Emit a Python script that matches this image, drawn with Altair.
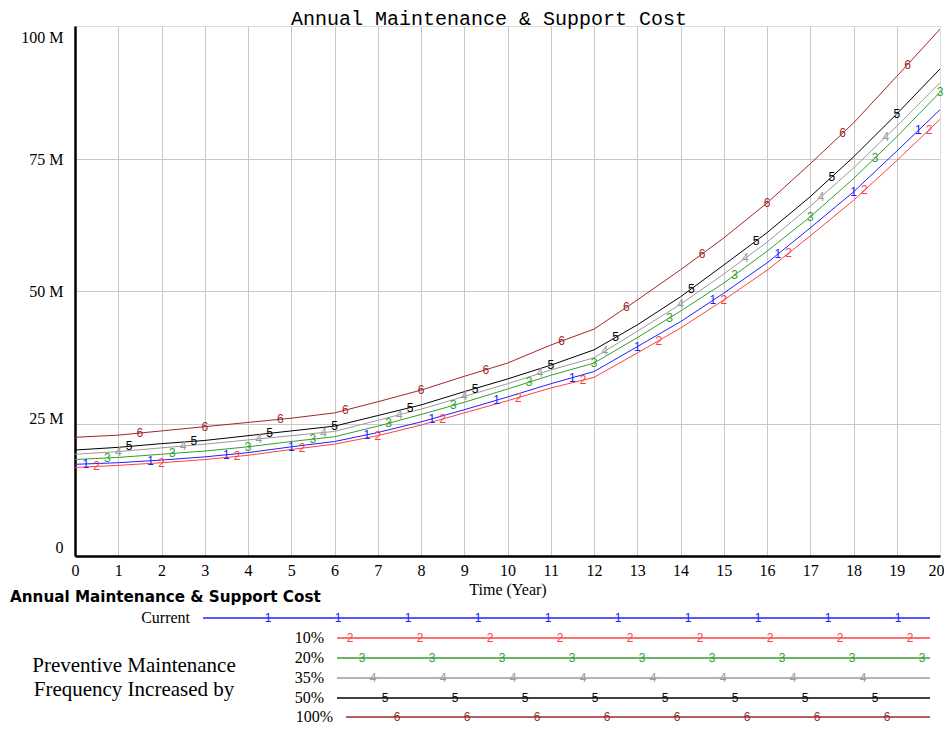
import altair as alt
import pandas as pd
import numpy as np

# ---------------- data ----------------
years = list(range(21))
series_names = ["Current", "10%", "20%", "35%", "50%", "100%"]
series_marks = ["1", "2", "3", "4", "5", "6"]
series_colors = ["#2020ff", "#ff4040", "#30a030", "#9a9a9a", "#000000", "#a02828"]

current = [17.3, 17.6, 18.1, 18.7, 19.5, 20.6, 21.6, 23.3, 25.3, 27.6, 30.0, 32.5, 34.8, 39.5, 44.2, 49.6, 55.3, 61.9, 68.7, 76.4, 84.2]
pm10 = [16.7, 17.1, 17.6, 18.2, 19.0, 20.1, 21.1, 22.7, 24.7, 27.0, 29.3, 31.7, 33.7, 38.3, 43.0, 48.3, 53.9, 60.4, 67.1, 74.6, 82.4]
pm20 = [18.2, 18.6, 19.2, 19.8, 20.6, 21.6, 22.5, 24.5, 26.7, 29.0, 31.5, 34.1, 36.4, 41.2, 46.2, 51.5, 57.5, 64.0, 71.2, 79.1, 87.5]
pm35 = [19.2, 19.7, 20.4, 21.1, 21.9, 22.7, 23.5, 25.6, 27.7, 30.1, 32.5, 35.1, 37.4, 42.4, 47.5, 53.2, 59.2, 66.0, 73.2, 81.1, 89.3]
pm50 = [20.0, 20.5, 21.2, 21.8, 22.7, 23.6, 24.5, 26.5, 28.5, 31.0, 33.4, 36.0, 38.9, 43.6, 48.9, 54.9, 61.0, 67.8, 75.3, 83.4, 91.9]
pm100 = [22.4, 22.8, 23.6, 24.4, 25.2, 26.0, 27.0, 29.1, 31.3, 33.9, 36.4, 39.8, 42.8, 48.3, 54.0, 60.0, 66.6, 74.0, 81.7, 90.5, 99.4]
all_series = [current, pm10, pm20, pm35, pm50, pm100]

# years at which the series number is drawn on each curve
mark_years = [
    [0.25, 1.75, 3.5, 5.0, 6.75, 8.25, 9.75, 11.5, 13.0, 14.75, 16.25, 18.0, 19.5],
    [0.5, 2.0, 3.75, 5.25, 7.0, 8.5, 10.25, 11.75, 13.5, 15.0, 16.5, 18.25, 19.75],
    [0.75, 2.25, 4.0, 5.5, 7.25, 8.75, 10.5, 12.0, 13.75, 15.25, 17.0, 18.5, 20.0],
    [1.0, 2.5, 4.25, 5.75, 7.5, 9.0, 10.75, 12.25, 14.0, 15.5, 17.25, 18.75],
    [1.25, 2.75, 4.5, 6.0, 7.75, 9.25, 11.0, 12.5, 14.25, 15.75, 17.5, 19.0],
    [1.5, 3.0, 4.75, 6.25, 8.0, 9.5, 11.25, 12.75, 14.5, 16.0, 17.75, 19.25],
]

TITLE = "Annual Maintenance & Support Cost"

# ---------------- layout ----------------
W, H = 865, 530
X0, Y0 = 75, 556  # page pixel of plot origin (left, bottom)


def dx(p):
    return (p - X0) / W * 20.0


def dy(p):
    return (Y0 - p) / H * 100.0


rows = []
for name, vals in zip(series_names, all_series):
    for yr, v in zip(years, vals):
        rows.append({"year": yr, "value": v, "series": name})
df = pd.DataFrame(rows)

mrows = []
for name, lab, vals, mys in zip(series_names, series_marks, all_series, mark_years):
    for my in mys:
        mrows.append({"year": my, "value": float(np.interp(my, years, vals)), "series": name, "lab": lab})
mdf = pd.DataFrame(mrows)

# legend block (below plot)
row_y = [618, 638, 658, 678, 698, 717]
line_start = [203, 337, 337, 337, 337, 346]
line_end = 930
label_right = [190, 324, 324, 324, 324, 333]
first_mark = [268, 350, 362, 373, 385, 397]
n_marks = [10, 9, 9, 8, 8, 8]

lrules, ltexts, lmarks = [], [], []
for i, name in enumerate(series_names):
    lrules.append({"year": dx(line_start[i]), "year2": dx(line_end), "value": dy(row_y[i]), "series": name})
    ltexts.append({"year": dx(label_right[i]), "value": dy(row_y[i]), "txt": name})
    for k in range(n_marks[i]):
        lmarks.append({"year": dx(first_mark[i] + 70 * k), "value": dy(row_y[i]), "series": name,
                       "lab": series_marks[i]})
lrules = pd.DataFrame(lrules)
ltexts = pd.DataFrame(ltexts)
lmarks = pd.DataFrame(lmarks)

notes = pd.DataFrame([
    {"year": dx(134), "value": dy(666), "txt": "Preventive Maintenance"},
    {"year": dx(134), "value": dy(690), "txt": "Frequency Increased by"},
])
header = pd.DataFrame([{"year": dx(10), "value": dy(597), "txt": TITLE}])
title_df = pd.DataFrame([{"year": dx(489), "value": dy(25), "txt": TITLE}])

SERIF = "Liberation Serif"

xenc = alt.X(
    "year:Q",
    scale=alt.Scale(domain=[0, 20], nice=False, zero=False),
    axis=alt.Axis(
        values=years, title="Time (Year)", grid=True,
        gridColor=alt.ExprRef(expr="datum.value == 0 || datum.value == 20 ? 'transparent' : '#c8c8c8'"),
        gridWidth=1,
        domain=True, domainColor="#000", domainWidth=2.5, ticks=False,
        labelFont=SERIF, labelFontSize=16, labelColor="#000",
        labelPadding=6, titleFont=SERIF, titleFontSize=16, titleFontWeight="normal",
        titleColor="#000", titlePadding=3, labelFlush=False,
        labelAlign=alt.ExprRef(expr="datum.value == 20 ? 'right' : 'center'"),
        labelOffset=alt.ExprRef(expr="datum.value == 20 ? 4 : 0"),
    ),
)
yenc = alt.Y(
    "value:Q",
    scale=alt.Scale(domain=[0, 100], nice=False, zero=False),
    axis=alt.Axis(
        values=[0, 25, 50, 75, 100], title=None, grid=True,
        gridColor=alt.ExprRef(expr="datum.value == 0 || datum.value == 100 ? 'transparent' : '#c8c8c8'"),
        gridWidth=1,
        domain=True, domainColor="#000", domainWidth=2.5, ticks=False,
        labelFont=SERIF, labelFontSize=16, labelColor="#000",
        labelPadding=12,
        labelExpr="datum.value == 0 ? '0' : datum.value + ' M'",
        labelOffset=alt.ExprRef(expr="datum.value == 100 ? 11 : datum.value == 25 ? -5 : datum.value == 0 ? -9 : datum.value == 75 ? 1 : 0"),
    ),
)
cenc = alt.Color("series:N", scale=alt.Scale(domain=series_names, range=series_colors), legend=None)

lines = alt.Chart(df).mark_line(strokeWidth=1, clip=True).encode(x=xenc, y=yenc, color=cenc, order="year:Q")

curve_marks = alt.Chart(mdf).mark_text(font="Liberation Sans", fontSize=12, align="center",
                                        baseline="middle").encode(x=xenc, y=yenc, color=cenc, text="lab:N")

leg_rules = alt.Chart(lrules).mark_rule(strokeWidth=1.5).encode(
    x=xenc, x2="year2:Q", y=yenc, color=cenc)
leg_marks = alt.Chart(lmarks).mark_text(font="Liberation Sans", fontSize=12, align="center",
                                        baseline="middle").encode(x=xenc, y=yenc, color=cenc, text="lab:N")
leg_texts = alt.Chart(ltexts).mark_text(font=SERIF, fontSize=16, align="right", baseline="middle",
                                        color="#000").encode(x=xenc, y=yenc, text="txt:N")
note_texts = alt.Chart(notes).mark_text(font=SERIF, fontSize=21, align="center", baseline="middle",
                                        color="#000").encode(x=xenc, y=yenc, text="txt:N")
header_text = alt.Chart(header).mark_text(font="DejaVu Sans", fontSize=15.2, fontWeight="bold",
                                          align="left", baseline="middle", color="#000").encode(
    x=xenc, y=yenc, text="txt:N")
title_text = alt.Chart(title_df).mark_text(font="Liberation Mono", fontSize=20, align="center",
                                           baseline="alphabetic", color="#000").encode(
    x=xenc, y=yenc, text="txt:N")

chart = alt.layer(
    lines, curve_marks, leg_rules, leg_marks, leg_texts, note_texts, header_text, title_text
).properties(
    width=W,
    height=H,
    padding={"left": 67, "top": 18, "right": 4, "bottom": 170},
    autosize=alt.AutoSizeParams(type="none"),
).configure_view(
    stroke="#000", strokeWidth=2.5
).configure(background="white")

chart.save("out.html", embed_options={"renderer": "svg", "actions": False})
